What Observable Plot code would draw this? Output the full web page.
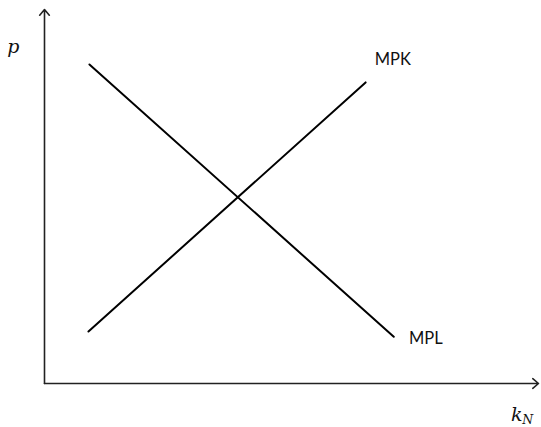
<!DOCTYPE html>
<html>
<head>
<meta charset="utf-8">
<script src="https://cdn.jsdelivr.net/npm/d3@7"></script>
<script src="https://cdn.jsdelivr.net/npm/@observablehq/plot@0.6"></script>
<style>
  html, body { margin: 0; padding: 0; background: #fff; }
</style>
</head>
<body>
<div id="chart"></div>
<script>
// Curve endpoints (abstract units, axes run 0..10)
const mpkX = [0.89, 6.5];
const mpkY = [1.39, 8.05];
const mplX = [0.91, 7.07];
const mplY = [8.53, 1.25];

// Axis arrows
const axisX1 = [0, 0];
const axisY1 = [0, 0];
const axisX2 = [10, 0];
const axisY2 = [0, 10];

// Labels
const curveLabels = ["MPK", "MPL"];
const curveLabelX = [7.05, 7.72];
const curveLabelY = [8.52, 1.06];

const mpk = mpkX.map((x, i) => ({x, y: mpkY[i]}));
const mpl = mplX.map((x, i) => ({x, y: mplY[i]}));
const axes = axisX1.map((x1, i) => ({x1, y1: axisY1[i], x2: axisX2[i], y2: axisY2[i]}));
const labels = curveLabels.map((t, i) => ({t, x: curveLabelX[i], y: curveLabelY[i]}));

const chart = Plot.plot({
  width: 541,
  height: 427,
  marginLeft: 44,
  marginRight: 3,
  marginTop: 9,
  marginBottom: 44,
  x: {domain: [0, 10], axis: null},
  y: {domain: [0, 10], axis: null},
  style: {background: "#fff", overflow: "visible"},
  marks: [
    Plot.arrow(axes, {x1: "x1", y1: "y1", x2: "x2", y2: "y2", bend: 0, headLength: 7, headAngle: 80, stroke: "#222", strokeWidth: 1.6}),
    Plot.line(mpk, {x: "x", y: "y", stroke: "#000", strokeWidth: 2}),
    Plot.line(mpl, {x: "x", y: "y", stroke: "#000", strokeWidth: 2}),
    Plot.text(labels, {x: "x", y: "y", text: "t", fontFamily: "Lato, 'Open Sans', sans-serif", fontSize: 16.5, fill: "#111", textAnchor: "middle", lineAnchor: "bottom"}),
    Plot.text(["p"], {x: -0.63, y: 8.85, text: d => d, fontFamily: "'DejaVu Serif', serif", fontStyle: "italic", fontSize: 19, fill: "#111", textAnchor: "middle", lineAnchor: "bottom"}),
    Plot.text(["k"], {x: 9.56, y: -0.99, text: d => d, fontFamily: "'DejaVu Serif', serif", fontStyle: "italic", fontSize: 19, fill: "#111", textAnchor: "middle", lineAnchor: "bottom"}),
    Plot.text(["N"], {x: 9.78, y: -1.07, text: d => d, fontFamily: "'DejaVu Serif', serif", fontStyle: "italic", fontSize: 12.5, fill: "#111", textAnchor: "middle", lineAnchor: "bottom"})
  ]
});
document.getElementById("chart").appendChild(chart);
</script>
</body>
</html>
